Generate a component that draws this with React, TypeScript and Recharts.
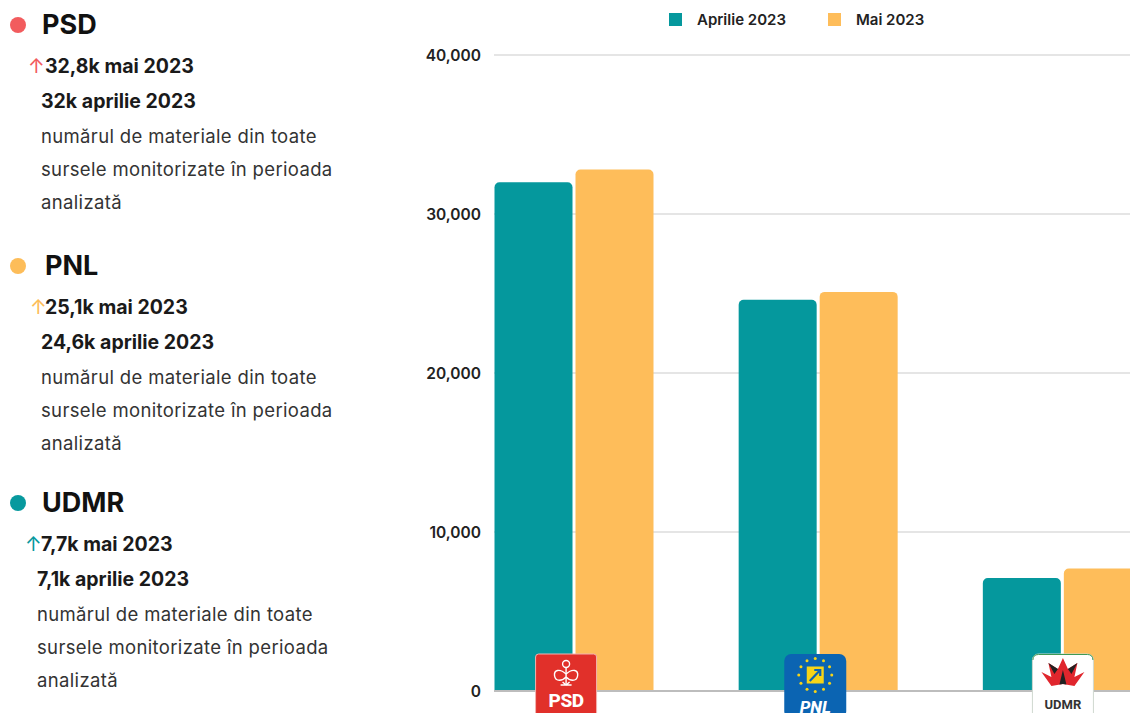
import React from 'react';
import {Bar, BarChart, CartesianGrid, XAxis, YAxis} from 'recharts';

const parties = ['PSD', 'PNL', 'UDMR'];
const aprilie2023 = [32000, 24600, 7100];
const mai2023 = [32800, 25100, 7700];
const yTicks = [0, 10000, 20000, 30000, 40000];
const partyColors = ['#F25C5E', '#FDBD59', '#07999E'];
const seriesNames = ['Aprilie 2023', 'Mai 2023'];
const descriptionLines = ['numărul de materiale din toate', 'sursele monitorizate în perioada', 'analizată'];

const TEAL = '#05989D';
const ORANGE = '#FEBD5A';
const FONT = 'Inter, "Open Sans", sans-serif';

// layout of the three text blocks on the left: title centre y and small x nudges
const blockLayout = [
    {top: 25, title: 42, arrow: 28, mai: 45, rest: 41},
    {top: 266, title: 45, arrow: 30, mai: 45, rest: 41},
    {top: 503, title: 42, arrow: 25, mai: 41, rest: 37},
];

// logos sit a little off the category centre in the original
const logoShift: Record<string, number> = {PSD: -7, PNL: -2.5, UDMR: 1.5};

const data = parties.map((party, i) => ({party, aprilie: aprilie2023[i], mai: mai2023[i]}));

function formatK(value: number): string {
    const k = (value / 1000).toFixed(1).replace(/\.0$/, '').replace('.', ',');
    return `${k}k`;
}

function Line({x, y, h, children, style}: {x: number; y: number; h: number; children: React.ReactNode; style?: React.CSSProperties}) {
    return (
        <div style={{position: 'absolute', left: x, top: y - h / 2, height: h, lineHeight: `${h}px`, whiteSpace: 'nowrap', ...style}}>
            {children}
        </div>
    );
}

function PartyBlock({index}: {index: number}) {
    const l = blockLayout[index];
    const color = partyColors[index];
    const bold: React.CSSProperties = {fontSize: 19.5, fontWeight: 700, color: '#1a1a1a'};
    return (
        <>
            <div style={{position: 'absolute', left: 10, top: l.top - 8, width: 16, height: 16, borderRadius: 8, background: color}}/>
            <Line x={l.title} y={l.top} h={32} style={{fontSize: 27, fontWeight: 700, color: '#111'}}>{parties[index]}</Line>
            <Line x={l.arrow} y={l.top + 41} h={24} style={{fontSize: 20, color}}>↑</Line>
            <Line x={l.mai} y={l.top + 41} h={24} style={bold}>
                {formatK(mai2023[index])} mai 2023
            </Line>
            <Line x={l.rest} y={l.top + 76} h={24} style={bold}>
                {formatK(aprilie2023[index])} aprilie 2023
            </Line>
            {descriptionLines.map((text, j) => (
                <Line key={j} x={l.rest} y={l.top + 111 + j * 33} h={24} style={{fontSize: 18.5, letterSpacing: 0.35, color: '#333'}}>{text}</Line>
            ))}
        </>
    );
}

function PsdLogo() {
    return (
        <g>
            <rect x={0} y={0} width={61} height={66} rx={3} fill="#E1302A" stroke="#f2b3b0"/>
            <g stroke="#fff" strokeWidth={1.4} fill="none">
                <circle cx={30.5} cy={10} r={3.5}/>
                <path d="M30.5 14 L30.5 31"/>
                <path d="M30.5 20 C24 14 18 16 19 22 C20 28 27 27 30.5 23"/>
                <path d="M30.5 20 C37 14 43 16 42 22 C41 28 34 27 30.5 23"/>
                <path d="M25 31 L36 31 M27 28 L30.5 31 L34 28"/>
            </g>
            <text x={30.5} y={53} textAnchor="middle" fill="#fff" fontSize={19} fontWeight={800} fontFamily="Roboto, sans-serif" letterSpacing={-0.5}>PSD</text>
        </g>
    );
}

function PnlLogo() {
    const stars = Array.from({length: 12}, (_, i) => i);
    return (
        <g>
            <rect x={0} y={0} width={62} height={64} rx={7} fill="#0B64B2"/>
            {stars.map((i) => {
                const a = (i / 12) * Math.PI * 2;
                return <circle key={i} cx={31 + 16.5 * Math.sin(a)} cy={21 - 16.5 * Math.cos(a)} r={1.5} fill="#F7D417"/>;
            })}
            <rect x={22.5} y={12.5} width={17} height={17} fill="#F7D417"/>
            <path d="M25.5 27 L36 16 M30 16 L36 16 L36 22" stroke="#0B64B2" strokeWidth={2.2} fill="none"/>
            <text x={31} y={59} textAnchor="middle" fill="#fff" fontSize={17} fontWeight={800} fontStyle="italic" fontFamily="Roboto, sans-serif">PNL</text>
        </g>
    );
}

function UdmrLogo() {
    return (
        <g>
            <rect x={0} y={0} width={61} height={66} rx={6} fill="#fff" stroke="#cfd8cf"/>
            <path d="M0.5 6 Q0.5 0.5 6 0.5 L55 0.5 Q60.5 0.5 60.5 6" stroke="#3f9a55" fill="none"/>
            <path d="M30.5 4 L35.5 15 L45 9 L42 23 L52 18 L42 32 L30.5 30 L19 32 L9 18 L19 23 L16 9 L25.5 15 Z" fill="#E0262D"/>
            <path d="M30.5 16 L34 30.5 L30.5 30 L27 30.5 Z M16 9 L25.5 15 L22 20 Z M45 9 L35.5 15 L39 20 Z" fill="#222"/>
            <text x={30.5} y={55} textAnchor="middle" fill="#333" fontSize={13} fontWeight={700} fontFamily="Roboto, sans-serif">UDMR</text>
        </g>
    );
}

function PartyTick(props: any) {
    const {x, y, payload} = props;
    const logos: Record<string, React.ReactNode> = {PSD: <PsdLogo/>, PNL: <PnlLogo/>, UDMR: <UdmrLogo/>};
    const dx = logoShift[payload.value] ?? 0;
    return <g transform={`translate(${x - 31 + dx},${y - 37})`}>{logos[payload.value]}</g>;
}

export default function App() {
    return (
        <div style={{position: 'fixed', left: 0, top: 0, width: 1130, height: 713, overflow: 'hidden', background: '#fff', fontFamily: FONT}}>
            {parties.map((p, i) => <PartyBlock key={p} index={i}/>)}

            <div style={{position: 'absolute', left: 669, top: 9, height: 20, display: 'flex', alignItems: 'center', fontSize: 15, fontWeight: 600, color: '#222'}}>
                {seriesNames.map((name, i) => (
                    <span key={name} style={{display: 'flex', alignItems: 'center', marginRight: 42}}>
                        <span style={{display: 'inline-block', width: 13, height: 13, background: i === 0 ? TEAL : ORANGE, marginRight: 15}}/>
                        {name}
                    </span>
                ))}
            </div>

            <div style={{position: 'absolute', left: 400, top: 0}}>
                <BarChart width={784} height={713} data={data} margin={{top: 55, right: 0, bottom: 0, left: 0}} barSize={78} barGap={3}>
                    <CartesianGrid vertical={false} stroke="#dcdcdc" strokeWidth={1.5}/>
                    <YAxis
                        width={94}
                        domain={[0, 40000]}
                        ticks={yTicks}
                        tickFormatter={(v: number) => v.toLocaleString('en-US')}
                        axisLine={false}
                        tickLine={false}
                        tickSize={0}
                        tickMargin={13}
                        tick={{fill: '#222', fontSize: 15.5, fontWeight: 600}}
                    />
                    <Bar dataKey="aprilie" name={seriesNames[0]} fill={TEAL} radius={[5, 5, 0, 0]} isAnimationActive={false}/>
                    <Bar dataKey="mai" name={seriesNames[1]} fill={ORANGE} radius={[5, 5, 0, 0]} isAnimationActive={false}/>
                    <XAxis
                        dataKey="party"
                        height={22}
                        padding={{left: -42.5, right: 0}}
                        axisLine={{stroke: '#bdbdbd', strokeWidth: 2}}
                        tickLine={false}
                        tickSize={0}
                        tickMargin={0}
                        interval={0}
                        tick={(p: any) => <PartyTick {...p}/>}
                    />
                </BarChart>
            </div>
        </div>
    );
}
